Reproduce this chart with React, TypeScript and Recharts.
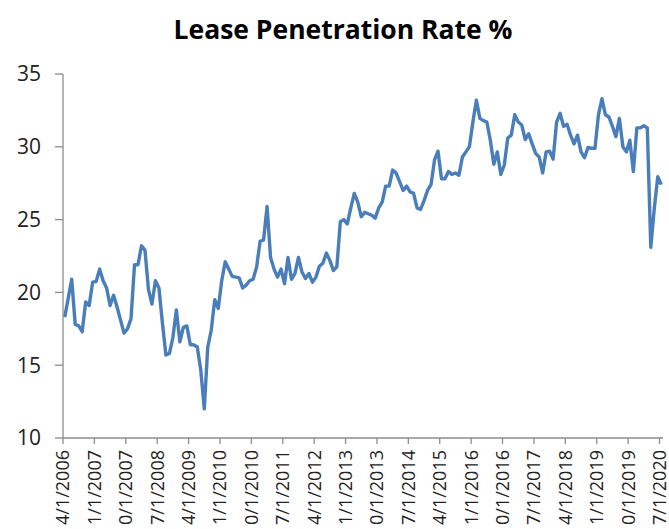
import React from "react";
import { LineChart, Line, XAxis, YAxis } from "recharts";

const title = "Lease Penetration Rate %";

// Monthly values, 4/1/2006 .. 7/1/2020
const leaseRate: number[] = [
  18.3, 19.6, 20.9, 17.8, 17.7, 17.3, 19.35, 19.1, 20.7, 20.75,
  21.6, 20.8, 20.3, 19.1, 19.8, 19.0, 18.1, 17.2, 17.5, 18.2,
  21.9, 21.9, 23.2, 22.9, 20.2, 19.2, 20.8, 20.3, 17.9, 15.7,
  15.8, 16.9, 18.8, 16.6, 17.6, 17.7, 16.4, 16.4, 16.25, 14.65,
  12.0, 16.25, 17.4, 19.5, 18.9, 20.8, 22.1, 21.6, 21.1, 21.05,
  21.0, 20.3, 20.5, 20.8, 20.9, 21.75, 23.5, 23.6, 25.9, 22.4,
  21.6, 21.05, 21.6, 20.6, 22.4, 20.9, 21.3, 22.4, 21.4, 20.95,
  21.3, 20.7, 21.05, 21.8, 22.0, 22.7, 22.2, 21.5, 21.75, 24.85,
  25.0, 24.7, 25.8, 26.8, 26.2, 25.2, 25.5, 25.4, 25.3, 25.1,
  25.8, 26.2, 27.3, 27.3, 28.4, 28.2, 27.6, 27.0, 27.3, 26.9,
  26.8, 25.8, 25.7, 26.3, 27.0, 27.4, 29.1, 29.7, 27.8, 27.8,
  28.3, 28.1, 28.2, 28.05, 29.3, 29.65, 30.0, 31.7, 33.2, 31.95,
  31.8, 31.7, 30.45, 28.8, 29.65, 28.1, 28.75, 30.6, 30.8, 32.2,
  31.7, 31.5, 30.5, 30.9, 30.2, 29.55, 29.3, 28.2, 29.65, 29.7,
  29.15, 31.7, 32.3, 31.4, 31.55, 30.8, 30.2, 30.8, 29.65, 29.25,
  29.95, 29.9, 29.9, 32.2, 33.3, 32.2, 32.05, 31.4, 30.7, 31.95,
  30.0, 29.65, 30.45, 28.3, 31.3, 31.3, 31.45, 31.3, 23.1, 25.75,
  27.95, 27.4,
];

const tickLabels: string[] = [
  "4/1/2006", "1/1/2007", "10/1/2007", "7/1/2008", "4/1/2009",
  "1/1/2010", "10/1/2010", "7/1/2011", "4/1/2012", "1/1/2013",
  "10/1/2013", "7/1/2014", "4/1/2015", "1/1/2016", "10/1/2016",
  "7/1/2017", "4/1/2018", "1/1/2019", "10/1/2019", "7/1/2020",
];
const tickStep = 9; // months between labels
const yTicks: number[] = [10, 15, 20, 25, 30, 35];

const data = leaseRate.map((v, i) => ({ t: i + 0.5, v }));
const xTicks = tickLabels.map((_, k) => k * tickStep);

const FONT = "'Open Sans', sans-serif";
const AXIS = "#8c8c8c";

const XTick = (props: any) => {
  const { x, y, payload } = props;
  const label = tickLabels[Math.round(payload.value / tickStep)] ?? "";
  return (
    <g transform={`translate(${x},${y})`}>
      <text
        transform="rotate(-90)"
        x={0}
        y={0}
        dy="0.36em"
        textAnchor="end"
        fontFamily={FONT}
        fontSize={18}
        fill="#222"
      >
        {label}
      </text>
    </g>
  );
};

export default function App() {
  return (
    <div style={{ position: "absolute", left: 0, top: 0, width: 669, height: 529, background: "#fff" }}>
      <LineChart
        width={669}
        height={529}
        data={data}
        margin={{ top: 74, right: 6, bottom: 0, left: 0 }}
      >
        <XAxis
          dataKey="t"
          type="number"
          domain={[0, leaseRate.length]}
          ticks={xTicks}
          interval={0}
          height={91}
          tickSize={6}
          tickMargin={6}
          tick={<XTick />}
          axisLine={{ stroke: AXIS, strokeWidth: 1.3 }}
          tickLine={{ stroke: AXIS, strokeWidth: 1.3 }}
        />
        <YAxis
          type="number"
          domain={[10, 35]}
          ticks={yTicks}
          interval={0}
          width={63}
          tickSize={8}
          tickMargin={14}
          axisLine={{ stroke: AXIS, strokeWidth: 1.3 }}
          tickLine={{ stroke: AXIS, strokeWidth: 1.3 }}
          tick={{ fontFamily: FONT, fontSize: 21, fill: "#222" }}
        />
        <Line
          type="linear"
          dataKey="v"
          stroke="#4a7ebb"
          strokeWidth={3.4}
          dot={false}
          strokeLinejoin="round"
          isAnimationActive={false}
        />
      </LineChart>
      <svg
        width={669}
        height={60}
        style={{ position: "absolute", left: 0, top: 0, pointerEvents: "none" }}
      >
        <text
          x={343}
          y={39}
          textAnchor="middle"
          fontFamily={FONT}
          fontWeight={700}
          fontSize={26.5}
          fill="#000"
        >
          {title}
        </text>
      </svg>
    </div>
  );
}
